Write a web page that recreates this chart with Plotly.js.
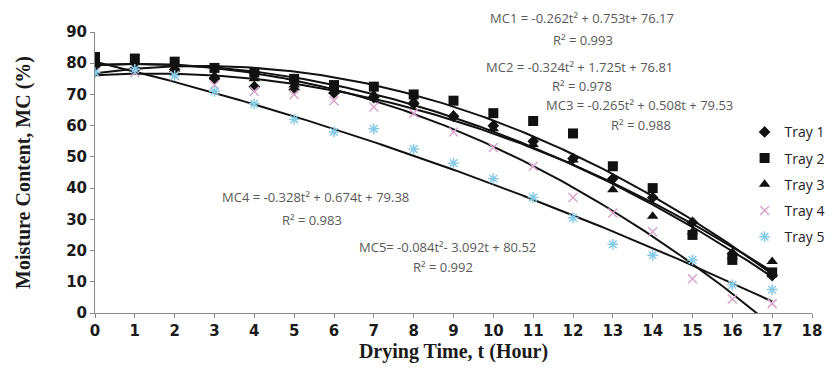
<!DOCTYPE html>
<html>
<head>
<meta charset="utf-8">
<script src="https://cdn.plot.ly/plotly-3.0.1.min.js"></script>
<style>html,body{margin:0;padding:0;background:#fff;}#chart{width:834px;height:385px;}</style>
</head>
<body>
<div id="chart"></div>
<script>
// Drying time (hours)
const hours = [0,1,2,3,4,5,6,7,8,9,10,11,12,13,14,15,16,17];
// Moisture content (%) per tray
const tray1 = [79, 78, 78, 75, 72.5, 71.5, 70.5, 69, 67, 63, 60, 55, 49.5, 43, 37, 29, 19, 12];
const tray2 = [82, 81.5, 80.5, 78.5, 77, 75, 73, 72.5, 70, 68, 64, 61.5, 57.5, 47, 40, 25, 17, 13];
const tray3 = [80, 79, 78, 76, 75, 73, 71, 70, 68, 63.5, 59, 54, 49, 39.5, 31, 26, 18, 16.5];
const tray4 = [77, 77, 76, 73, 71, 70, 68, 66, 64, 58, 53, 47, 37, 32, 26, 11, 4.5, 3];
const tray5 = [77, 78, 76, 71, 67, 62, 58, 59, 52.5, 48, 43, 37, 30.5, 22, 18.5, 17, 9, 7.5];
const trayNames = ["Tray 1", "Tray 2", "Tray 3", "Tray 4", "Tray 5"];
// Trendline coefficients shown on the chart: [a, b, c] for a*t^2 + b*t + c
const fit1 = [-0.262, 0.753, 76.17];
const fit2 = [-0.324, 1.725, 76.81];
const fit3 = [-0.265, 0.508, 79.53];
const fit4 = [-0.328, 0.674, 79.38];
const fit5 = [-0.084, -3.092, 80.52];
// Trendline labels
const eqLabels = [
  "MC1 = -0.262t² + 0.753t+ 76.17", "R² = 0.993",
  "MC2 = -0.324t² + 1.725t + 76.81", "R² = 0.978",
  "MC3 = -0.265t² + 0.508t + 79.53", "R² = 0.988",
  "MC4 = -0.328t² + 0.674t + 79.38", "R² = 0.983",
  "MC5= -0.084t²- 3.092t + 80.52", "R² = 0.992"
];

const series = [tray1, tray2, tray3, tray4, tray5];
const fits = [fit1, fit2, fit3, fit4, fit5];
const markerStyles = [
  {symbol: "diamond", size: 9, color: "#111111"},
  {symbol: "square", size: 10, color: "#111111"},
  {symbol: "triangle-up", size: 10, color: "#111111"},
  {symbol: "x-thin-open", size: 9, color: "#d9a6cf", line: {color: "#d9a6cf", width: 1.5}},
  {symbol: "asterisk-open", size: 9, color: "#88cbe6", line: {color: "#88cbe6", width: 1.5}}
];

// Fine t grid for smooth trendline drawing (0..17)
const tFine = [];
for (let i = 0; i <= 170; i++) tFine.push(i / 10);

const traces = [];
fits.forEach(function (f) {
  traces.push({
    x: tFine,
    y: tFine.map(function (t) { return f[0] * t * t + f[1] * t + f[2]; }),
    mode: "lines", type: "scatter", showlegend: false, hoverinfo: "skip",
    line: {color: "#111111", width: 2}
  });
});
series.forEach(function (s, i) {
  traces.push({
    x: hours, y: s, name: trayNames[i], mode: "markers", type: "scatter",
    marker: markerStyles[i], legendgroup: "g" + i
  });
});

// label centres in paper coordinates
const eqPos = [
  [0.679, 1.050], [0.681, 0.972],
  [0.676, 0.875], [0.679, 0.808],
  [0.759, 0.740], [0.762, 0.669],
  [0.308, 0.413], [0.303, 0.331],
  [0.492, 0.235], [0.485, 0.164]
];
const annotations = eqLabels.map(function (txt, i) {
  return {
    x: eqPos[i][0], y: eqPos[i][1], xref: "paper", yref: "paper", text: txt,
    showarrow: false, xanchor: "center", yanchor: "middle",
    font: {family: "Open Sans, sans-serif", size: 13, color: "#595959"}
  };
});

const layout = {
  width: 834, height: 385,
  margin: {l: 95, r: 22, t: 32, b: 72, autoexpand: false},
  paper_bgcolor: "#ffffff", plot_bgcolor: "#ffffff",
  showlegend: true,
  legend: {
    x: 0.906, y: 0.70, xanchor: "left", yanchor: "top",
    bgcolor: "rgba(0,0,0,0)", tracegroupgap: 5,
    font: {family: "Open Sans, sans-serif", size: 14, color: "#222222"}
  },
  xaxis: {
    range: [0, 18], dtick: 1, tick0: 0, showgrid: false, zeroline: false,
    showline: true, linecolor: "#8a8a8a", linewidth: 1,
    ticks: "outside", ticklen: 4, tickcolor: "#8a8a8a",
    tickfont: {family: "DejaVu Sans, sans-serif", size: 15, color: "#1a1a1a", weight: "bold"},
    title: {text: "Drying Time, t (Hour)", standoff: 4,
      font: {family: "Liberation Serif, serif", size: 20, color: "#1a1a1a", weight: "bold"}}
  },
  yaxis: {
    range: [0, 90], dtick: 10, showgrid: false, zeroline: false,
    showline: true, linecolor: "#8a8a8a", linewidth: 1,
    ticks: "outside", ticklen: 4, tickcolor: "#8a8a8a",
    tickfont: {family: "DejaVu Sans, sans-serif", size: 15, color: "#1a1a1a", weight: "bold"},
    title: {text: "Moisture Content, MC (%)", standoff: 30,
      font: {family: "Liberation Serif, serif", size: 20, color: "#1a1a1a", weight: "bold"}}
  },
  annotations: annotations
};

Plotly.newPlot("chart", traces, layout, {displayModeBar: false, staticPlot: true});
</script>
</body>
</html>
